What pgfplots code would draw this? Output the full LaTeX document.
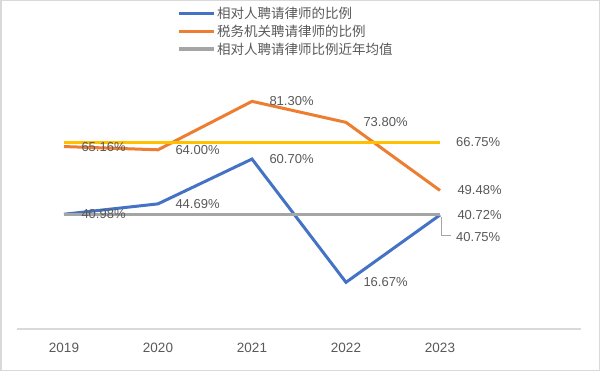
\documentclass[border=0pt]{standalone}
\usepackage{pgfplots}
\pgfplotsset{compat=1.18}
\usepackage{fontspec}
\setmainfont{Liberation Sans}
\newfontfamily\cjk{Noto Sans CJK SC}
\definecolor{cblue}{HTML}{4472C4}
\definecolor{corange}{HTML}{ED7D31}
\definecolor{cgray}{HTML}{A5A5A5}
\definecolor{cyellow}{HTML}{FFC000}
\definecolor{clabel}{HTML}{595959}
\definecolor{caxis}{HTML}{D9D9D9}
\newcommand{\labfont}{\fontsize{13bp}{15bp}\selectfont}
\newcommand{\tickfont}{\fontsize{13.5bp}{15bp}\selectfont}
\begin{document}
\begin{tikzpicture}
\useasboundingbox (0,0) rectangle (600bp,371bp);
\draw[color=caxis, line width=1.5bp] (0.75bp,0.75bp) rectangle (599.25bp,370.25bp);
\begin{axis}[
  at={(17bp,42bp)}, anchor=south west,
  scale only axis, width=564bp, height=280bp,
  xmin=-0.5, xmax=5.5, ymin=0, ymax=100,
  axis x line=bottom, axis y line=none,
  x axis line style={-, draw=caxis, line width=1.2bp},
  xtick={0,1,2,3,4}, xticklabels={2019,2020,2021,2022,2023},
  xtick style={draw=none}, ytick=\empty,
  xticklabel style={font=\tickfont, text=clabel, anchor=north, yshift=-8bp},
  clip=false,
  /pgf/number format/assume math mode=true,
  every node near coord/.append style={anchor=west, inner sep=0pt, xshift=16bp, font=\labfont, text=clabel},
  legend style={at={(axis description cs:0.2837,1.155)}, anchor=north west, draw=none, fill=none,
    font=\cjk\fontsize{13.5bp}{16bp}\selectfont, text=clabel, row sep=1.8bp, inner sep=0pt, nodes={inner sep=1.5bp}},
  legend cell align=left,
  legend image code/.code={\draw[line width=3.3bp] (0bp,0bp) -- (35bp,0bp);},
]
\addplot[cblue, line width=3bp, nodes near coords={\pgfmathprintnumber[fixed,fixed zerofill,precision=2]{\pgfplotspointmeta}\%}]
  coordinates {(0,40.98) (1,44.69) (2,60.70) (3,16.67) (4,40.72)};
\addlegendentry{相对人聘请律师的比例}
\addplot[corange, line width=3bp, nodes near coords={\pgfmathprintnumber[fixed,fixed zerofill,precision=2]{\pgfplotspointmeta}\%}]
  coordinates {(0,65.16) (1,64.00) (2,81.30) (3,73.80) (4,49.48)};
\addlegendentry{税务机关聘请律师的比例}
\addplot[cgray, line width=3bp]
  coordinates {(0,40.75) (1,40.75) (2,40.75) (3,40.75) (4,40.75)};
\addlegendentry{相对人聘请律师比例近年均值}
\addplot[cyellow, line width=3bp, forget plot]
  coordinates {(0,66.75) (1,66.75) (2,66.75) (3,66.75) (4,66.75)};
\addplot[draw=none, forget plot, nodes near coords={\pgfmathprintnumber[fixed,fixed zerofill,precision=2]{\pgfplotspointmeta}\%}]
  coordinates {(4,66.75)};
\addplot[draw=none, forget plot, nodes near coords={\pgfmathprintnumber[fixed,fixed zerofill,precision=2]{\pgfplotspointmeta}\%},
  every node near coord/.append style={yshift=-22bp}]
  coordinates {(4,40.75)};
\draw[cgray, line width=1bp] (axis cs:4,40.75) ++(2bp,-2bp) |- ++(9bp,-19bp);
\end{axis}
\end{tikzpicture}
\end{document}
